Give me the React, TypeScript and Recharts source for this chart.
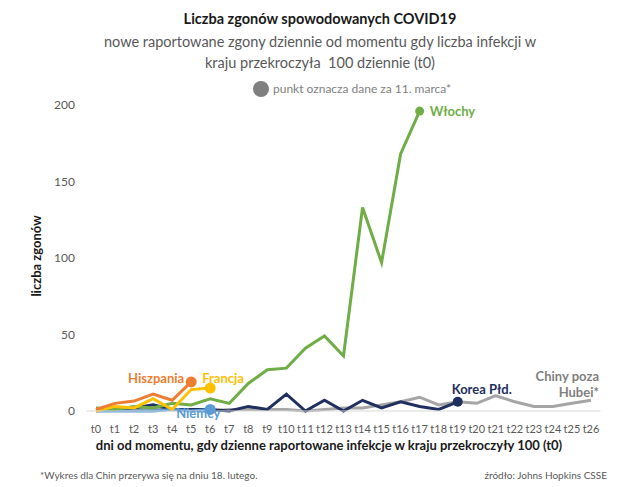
import React from "react";
import { LineChart, Line, XAxis, YAxis, LabelList } from "recharts";

const categories = Array.from({ length: 27 }, (_, i) => `t${i}`);
const wlochy = [2, 1, 3, 2, 5, 4, 8, 5, 18, 27, 28, 41, 49, 36, 133, 97, 168, 196];
const hiszpania = [1, 5, 6.5, 11, 7, 19];
const francja = [0, 3, 2, 8, 1, 14, 15];
const niemcy = [0, 0, 0, 0, 1, 0, 1];
const korea = [1, 1, 2, 4, 1, 1, 1, 0, 3, 1, 11, 0, 7, 0, 7, 2, 6, 3, 1, 6];
const chiny = [0, 1, 1, 1, 1, 1, 0, 1, 1, 1, 1, 0, 1, 2, 2, 4, 6, 9, 4, 6, 5, 10, 6, 3, 3, 5, 7];
const yTicks = [0, 50, 100, 150, 200];

const data = categories.map((t, i) => ({
  t,
  wlochy: wlochy[i],
  hiszpania: hiszpania[i],
  francja: francja[i],
  niemcy: niemcy[i],
  korea: korea[i],
  chiny: chiny[i],
}));

const FONT = "Lato, 'Open Sans', sans-serif";

const lastDot = (len: number, color: string, r: number) => (props: any) => {
  const { cx, cy, index } = props;
  if (index !== len - 1 || cx == null || cy == null) return <g key={`d${index}`} />;
  return <circle key={`d${index}`} cx={cx} cy={cy} r={r} fill={color} stroke="none" />;
};

const lastLabel =
  (len: number, lines: string[], color: string, dx: number, dy: number, anchor: string, lh = 16) =>
  (props: any) => {
    const { x, y, index } = props;
    if (index !== len - 1 || x == null || y == null) return null;
    return (
      <text
        x={x + dx}
        y={y + dy}
        fill={color}
        textAnchor={anchor as any}
        dominantBaseline="central"
        style={{ fontFamily: FONT, fontSize: 13, fontWeight: 700 }}
      >
        {lines.map((l, k) => (
          <tspan key={k} x={x + dx} dy={k === 0 ? 0 : lh}>
            {l}
          </tspan>
        ))}
      </text>
    );
  };

const C = {
  wlochy: "#70AD47",
  hiszpania: "#ED7D31",
  francja: "#FFC000",
  niemcy: "#5B9BD5",
  korea: "#1F2F5E",
  chiny: "#A5A5A5",
};

export default function App() {
  return (
    <div style={{ position: "absolute", left: 0, top: 0, width: 640, height: 487, background: "#fff", fontFamily: FONT }}>
      <div style={{ position: "absolute", left: 0, width: 640, top: 10, textAlign: "center", fontSize: 14.5, fontWeight: 700, color: "#1a1a1a" }}>
        Liczba zgonów spowodowanych COVID19
      </div>
      <div style={{ position: "absolute", left: 0, width: 640, top: 31, textAlign: "center", fontSize: 14.5, color: "#595959", lineHeight: "21px" }}>
        nowe raportowane zgony dziennie od momentu gdy liczba infekcji w
        <br />
        kraju przekroczyła&nbsp; 100 dziennie (t0)
      </div>
      <div style={{ position: "absolute", left: 253, top: 81, width: 16, height: 16, borderRadius: 8, background: "#7F7F7F" }} />
      <div style={{ position: "absolute", left: 273, top: 81, fontSize: 12, color: "#7F7F7F", lineHeight: "16px" }}>
        punkt oznacza dane za 11. marca*
      </div>
      <div
        style={{
          position: "absolute",
          left: 36,
          top: 256,
          transform: "translate(-50%, -50%) rotate(-90deg)",
          whiteSpace: "nowrap",
          fontSize: 13,
          fontWeight: 700,
          color: "#1a1a1a",
        }}
      >
        liczba zgonów
      </div>
      <div style={{ position: "absolute", left: 0, width: 658, top: 437, textAlign: "center", fontSize: 13, fontWeight: 700, color: "#1a1a1a" }}>
        dni od momentu, gdy dzienne raportowane infekcje w kraju przekroczyły 100 (t0)
      </div>
      <div style={{ position: "absolute", left: 40, top: 469, fontSize: 10, color: "#595959" }}>
        *Wykres dla Chin przerywa się na dniu 18. lutego.
      </div>
      <div style={{ position: "absolute", right: 33, top: 469, fontSize: 10, color: "#595959" }}>
        źródło: Johns Hopkins CSSE
      </div>
      <div style={{ position: "absolute", left: 0, top: 0 }}>
        <LineChart width={640} height={487} data={data} margin={{ top: 105, right: 39.5, bottom: 46, left: 26.5 }}>
          <XAxis
            dataKey="t"
            interval={0}
            padding={{ left: 9.5, right: 9.5 }}
            tickLine={false}
            axisLine={{ stroke: "#D9D9D9", strokeWidth: 1 }}
            tick={{ fill: "#595959", fontSize: 11, fontFamily: FONT }}
            tickMargin={8}
            height={30}
          />
          <YAxis
            domain={[0, 200]}
            ticks={yTicks}
            axisLine={false}
            tickLine={false}
            width={60}
            tickMargin={5.5}
            tick={{ fill: "#595959", fontSize: 12, fontFamily: FONT }}
          />
          <Line dataKey="chiny" stroke={C.chiny} strokeWidth={3} dot={false} isAnimationActive={false}>
            <LabelList dataKey="chiny" content={lastLabel(chiny.length, ["Chiny poza", "Hubei*"], "#7F7F7F", 8, -24, "end")} />
          </Line>
          <Line dataKey="korea" stroke={C.korea} strokeWidth={3} dot={lastDot(korea.length, C.korea, 5)} activeDot={false} isAnimationActive={false}>
            <LabelList dataKey="korea" content={lastLabel(korea.length, ["Korea Płd."], C.korea, 24, -13, "middle")} />
          </Line>
          <Line dataKey="niemcy" stroke={C.niemcy} strokeWidth={3} dot={lastDot(niemcy.length, C.niemcy, 5.5)} activeDot={false} isAnimationActive={false}>
            <LabelList dataKey="niemcy" content={lastLabel(niemcy.length, ["Niemcy"], C.niemcy, -12, 4, "middle")} />
          </Line>
          <Line dataKey="wlochy" stroke={C.wlochy} strokeWidth={3} dot={lastDot(wlochy.length, C.wlochy, 4.5)} activeDot={false} isAnimationActive={false}>
            <LabelList dataKey="wlochy" content={lastLabel(wlochy.length, ["Włochy"], C.wlochy, 10, 0, "start")} />
          </Line>
          <Line dataKey="francja" stroke={C.francja} strokeWidth={3} dot={lastDot(francja.length, C.francja, 5.5)} activeDot={false} isAnimationActive={false}>
            <LabelList dataKey="francja" content={lastLabel(francja.length, ["Francja"], C.francja, -8, -10, "start")} />
          </Line>
          <Line dataKey="hiszpania" stroke={C.hiszpania} strokeWidth={3} dot={lastDot(hiszpania.length, C.hiszpania, 5.5)} activeDot={false} isAnimationActive={false}>
            <LabelList dataKey="hiszpania" content={lastLabel(hiszpania.length, ["Hiszpania"], C.hiszpania, -7, -4, "end")} />
          </Line>
        </LineChart>
      </div>
    </div>
  );
}
